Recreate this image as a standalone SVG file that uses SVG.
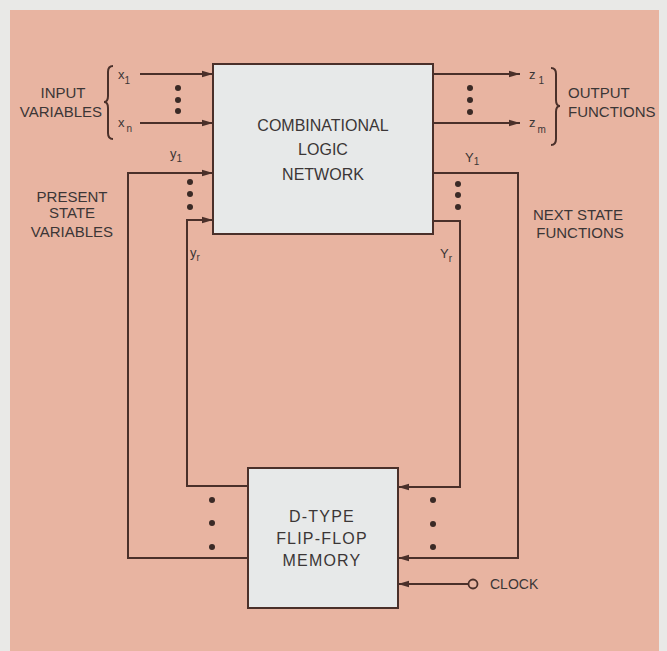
<svg xmlns="http://www.w3.org/2000/svg" width="667" height="651" viewBox="0 0 667 651">
<defs>
<style>
.box{fill:#e7e9e9;stroke:#4a302a;stroke-width:2}
.ln{fill:none;stroke:#4a302a;stroke-width:2}
.t{font-family:"Liberation Sans",Arial,sans-serif;fill:#3b3636}
.lbl{font-size:15px}
.bt{font-size:16px;text-anchor:middle}
.v{font-size:13px}
.s{font-size:10px}
.dot{fill:#3a2a26}
</style>
<marker id="ah" markerWidth="12" markerHeight="8" refX="11" refY="4" orient="auto" markerUnits="userSpaceOnUse">
<path d="M0,0.8 L11,4 L0,7.2 Z" fill="#4a302a"/>
</marker>
</defs>
<rect x="0" y="0" width="667" height="651" fill="#e9e9e7"/>
<rect x="10" y="10" width="649" height="641" fill="#e8b4a1"/>

<g id="connectors">
<path class="ln" d="M140,74 H213" marker-end="url(#ah)"/>
<path class="ln" d="M140,123 H213" marker-end="url(#ah)"/>
<path class="ln" d="M248,558 H128 V173 H213" marker-end="url(#ah)"/>
<path class="ln" d="M248,486 H187 V220 H213" marker-end="url(#ah)"/>
<path class="ln" d="M433,74 H520" marker-end="url(#ah)"/>
<path class="ln" d="M433,123 H520" marker-end="url(#ah)"/>
<path class="ln" d="M433,173 H518 V558 H398" marker-end="url(#ah)"/>
<path class="ln" d="M433,221 H460 V487 H398" marker-end="url(#ah)"/>
<path class="ln" d="M468.5,584 H398" marker-end="url(#ah)"/>
<circle cx="473" cy="584" r="4.5" fill="none" stroke="#4a302a" stroke-width="1.8"/>
<path class="ln" d="M113,66 Q108,66 108,72 V96 Q108,102 104,102 Q108,102 108,108 V133 Q108,139 113,139" stroke-width="1.8"/>
<path class="ln" d="M551,68 Q556,68 556,74 V100 Q556,106 560,106 Q556,106 556,112 V139 Q556,145 551,145" stroke-width="1.8"/>
<g class="dot">
<circle cx="178" cy="88" r="3"/><circle cx="178" cy="100" r="3"/><circle cx="178" cy="111" r="3"/>
<circle cx="470" cy="88" r="3"/><circle cx="470" cy="100" r="3"/><circle cx="470" cy="112" r="3"/>
<circle cx="190" cy="182" r="3"/><circle cx="190" cy="194" r="3"/><circle cx="190" cy="207" r="3"/>
<circle cx="458" cy="184" r="3"/><circle cx="458" cy="195" r="3"/><circle cx="458" cy="207" r="3"/>
<circle cx="212" cy="500" r="3"/><circle cx="212" cy="523" r="3"/><circle cx="212" cy="547" r="3"/>
<circle cx="433" cy="500" r="3"/><circle cx="433" cy="524" r="3"/><circle cx="433" cy="547" r="3"/>
</g>
</g>

<g id="combinational">
<rect class="box" x="213" y="64" width="220" height="170"/>
<text class="t bt" x="323" y="131">COMBINATIONAL</text>
<text class="t bt" x="323" y="155">LOGIC</text>
<text class="t bt" x="323" y="180">NETWORK</text>
</g>

<g id="memory">
<rect class="box" x="248" y="468" width="150" height="140"/>
<text class="t bt" x="322" y="522" letter-spacing="1.2">D-TYPE</text>
<text class="t bt" x="322" y="544" letter-spacing="1.2">FLIP-FLOP</text>
<text class="t bt" x="322" y="566" letter-spacing="1.2">MEMORY</text>
</g>

<g id="labels">
<text class="t lbl" x="63" y="98" text-anchor="middle">INPUT</text>
<text class="t lbl" x="61" y="117" text-anchor="middle">VARIABLES</text>
<text class="t lbl" x="72" y="202" text-anchor="middle">PRESENT</text>
<text class="t lbl" x="72" y="218" text-anchor="middle">STATE</text>
<text class="t lbl" x="72" y="237" text-anchor="middle">VARIABLES</text>
<text class="t lbl" x="568" y="98">OUTPUT</text>
<text class="t lbl" x="568" y="117">FUNCTIONS</text>
<text class="t lbl" x="578" y="220" text-anchor="middle">NEXT STATE</text>
<text class="t lbl" x="580" y="238" text-anchor="middle">FUNCTIONS</text>
<text class="t" x="490" y="589" font-size="14">CLOCK</text>
<text class="t v" x="118" y="79">x<tspan class="s" dy="5">1</tspan></text>
<text class="t v" x="118" y="127">x<tspan class="s" dx="2" dy="5">n</tspan></text>
<text class="t v" x="170" y="158">y<tspan class="s" dy="4">1</tspan></text>
<text class="t v" x="190" y="257">y<tspan class="s" dy="4">r</tspan></text>
<text class="t v" x="529" y="79">z<tspan class="s" dx="3" dy="5">1</tspan></text>
<text class="t v" x="529" y="127">z<tspan class="s" dx="2" dy="6">m</tspan></text>
<text class="t v" x="465" y="162">Y<tspan class="s" dy="3">1</tspan></text>
<text class="t v" x="440" y="258">Y<tspan class="s" dy="4">r</tspan></text>
</g>
</svg>
